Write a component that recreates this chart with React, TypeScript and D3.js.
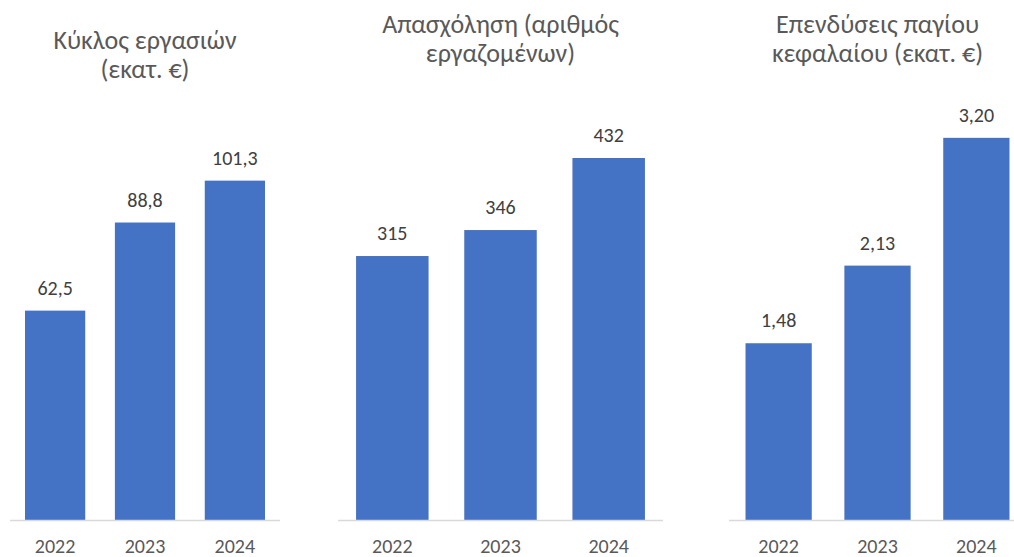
import React, { useEffect, useRef } from "react";
import * as d3 from "d3";

const years = ["2022", "2023", "2024"];
const turnover = [62.5, 88.8, 101.3];
const employment = [315, 346, 432];
const investment = [1.48, 2.13, 3.2];

const titles = [
  ["Κύκλος εργασιών", "(εκατ. €)"],
  ["Απασχόληση (αριθμός", "εργαζομένων)"],
  ["Επενδύσεις παγίου", "κεφαλαίου (εκατ. €)"],
];

const greek = d3.formatLocale({
  decimal: ",",
  thousands: ".",
  grouping: [3],
  currency: ["", " €"],
});

const FONT = "Carlito, 'Open Sans', 'Liberation Sans', sans-serif";

const App: React.FC = () => {
  const svgRef = useRef<SVGSVGElement>(null);

  useEffect(() => {
    if (!svgRef.current) return;
    const svg = d3.select(svgRef.current);
    svg.selectAll("*").remove();

    const width = 1014;
    const height = 557;
    const baseline = 520;

    // one entry per small chart
    const panels = [
      { values: turnover, max: 120, top: 118, x0: 10, x1: 280, fmt: greek.format(".1f"), titleY: 49 },
      { values: employment, max: 500, top: 101, x0: 338, x1: 663, fmt: greek.format("d"), titleY: 33 },
      { values: investment, max: 3.5, top: 102, x0: 729, x1: 1026, fmt: greek.format(".2f"), titleY: 33 },
    ];

    svg.attr("width", width).attr("height", height);

    panels.forEach((p, i) => {
      const g = svg.append("g");

      const xScale = d3
        .scaleBand()
        .domain(years)
        .range([p.x0, p.x1])
        .paddingInner(0.33)
        .paddingOuter(0.167);

      const yScale = d3
        .scaleLinear()
        .domain([0, p.max])
        .range([baseline, p.top]);

      const cx = (p.x0 + p.x1) / 2;

      // Title
      g.append("text")
        .attr("x", cx)
        .attr("y", p.titleY)
        .attr("text-anchor", "middle")
        .style("font-family", FONT)
        .style("font-size", "26px")
        .style("fill", "#595959")
        .selectAll("tspan")
        .data(titles[i])
        .enter()
        .append("tspan")
        .attr("x", cx)
        .attr("dy", (_, j) => (j === 0 ? 0 : 29))
        .text((d) => d);

      // Bars
      g.selectAll(".bar")
        .data(p.values)
        .enter()
        .append("rect")
        .attr("class", "bar")
        .attr("x", (_, j) => xScale(years[j]) || 0)
        .attr("width", xScale.bandwidth())
        .attr("y", (d) => yScale(d))
        .attr("height", (d) => baseline - yScale(d))
        .attr("fill", "#4472C4");

      // Axis line
      g.append("line")
        .attr("x1", p.x0)
        .attr("x2", p.x1)
        .attr("y1", baseline + 0.5)
        .attr("y2", baseline + 0.5)
        .attr("stroke", "#D9D9D9")
        .attr("stroke-width", 1.5);

      // Value labels
      g.selectAll(".bar-label")
        .data(p.values)
        .enter()
        .append("text")
        .attr("class", "bar-label")
        .attr("x", (_, j) => (xScale(years[j]) || 0) + xScale.bandwidth() / 2)
        .attr("y", (d) => yScale(d) - 16)
        .attr("text-anchor", "middle")
        .style("font-family", FONT)
        .style("font-size", "20px")
        .style("fill", "#404040")
        .text((d) => p.fmt(d));

      // Category labels
      g.selectAll(".tick-label")
        .data(years)
        .enter()
        .append("text")
        .attr("class", "tick-label")
        .attr("x", (d) => (xScale(d) || 0) + xScale.bandwidth() / 2)
        .attr("y", 553)
        .attr("text-anchor", "middle")
        .style("font-family", FONT)
        .style("font-size", "20px")
        .style("fill", "#595959")
        .text((d) => d);
    });
  }, []);

  return (
    <div style={{ position: "absolute", left: 0, top: 0, background: "#fff" }}>
      <svg ref={svgRef} style={{ display: "block" }}></svg>
    </div>
  );
};

export default App;
